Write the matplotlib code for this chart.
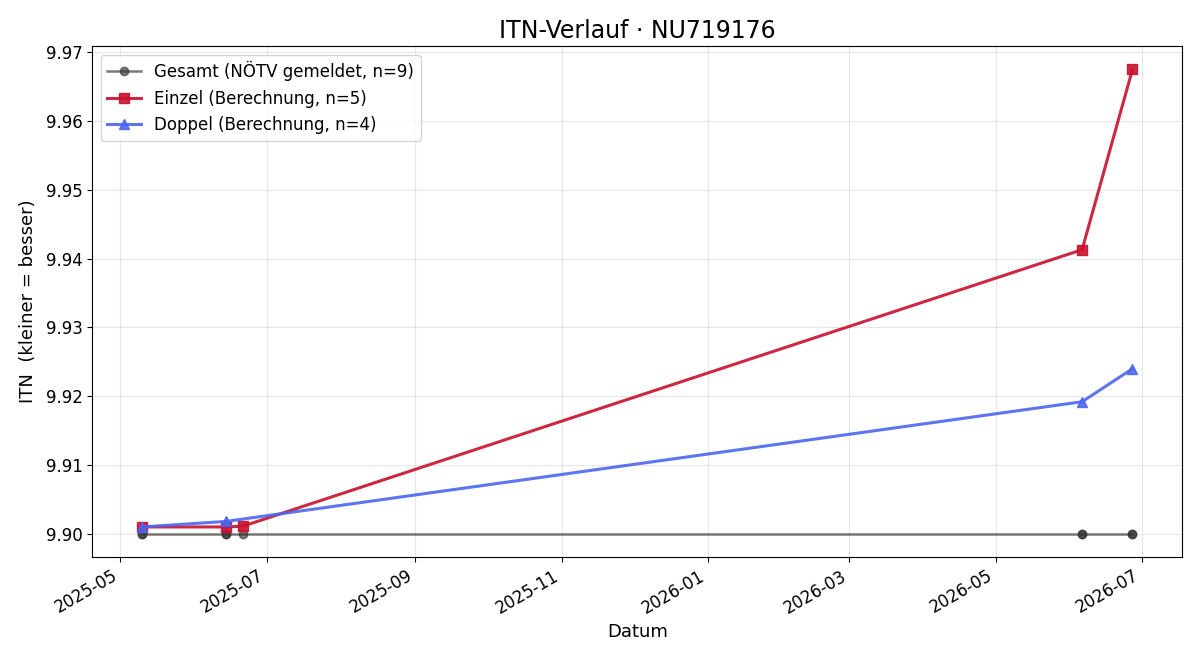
import matplotlib
matplotlib.use("Agg")
import matplotlib.pyplot as plt
import matplotlib.dates as mdates
import pandas as pd

gesamt_dates = ["2025-05-10", "2025-05-10", "2025-06-14", "2025-06-14", "2025-06-21",
                "2026-06-06", "2026-06-06", "2026-06-27", "2026-06-27"]
gesamt_itn = [9.90, 9.90, 9.90, 9.90, 9.90, 9.90, 9.90, 9.90, 9.90]

einzel_dates = ["2025-05-10", "2025-06-14", "2025-06-21", "2026-06-06", "2026-06-27"]
einzel_itn = [9.9010, 9.9010, 9.9011, 9.9413, 9.9675]

doppel_dates = ["2025-05-10", "2025-06-14", "2026-06-06", "2026-06-27"]
doppel_itn = [9.9010, 9.9018, 9.9192, 9.9240]

fig, ax = plt.subplots(figsize=(12, 6.6), dpi=100)
ax.plot(pd.to_datetime(gesamt_dates), gesamt_itn, "-o", color="#333333", alpha=0.65,
        lw=1.8, ms=6, label=f"Gesamt (NÖTV gemeldet, n={len(gesamt_itn)})")
ax.plot(pd.to_datetime(einzel_dates), einzel_itn, "-s", color="#c8102e", alpha=0.9,
        lw=2.2, ms=7, label=f"Einzel (Berechnung, n={len(einzel_itn)})")
ax.plot(pd.to_datetime(doppel_dates), doppel_itn, "-^", color="#4a66f0", alpha=0.9,
        lw=2.2, ms=7, label=f"Doppel (Berechnung, n={len(doppel_itn)})")

ax.xaxis.set_major_locator(mdates.MonthLocator(bymonth=[1, 3, 5, 7, 9, 11]))
ax.xaxis.set_major_formatter(mdates.DateFormatter("%Y-%m"))
ax.tick_params(labelsize=12)
ax.set_title("ITN-Verlauf · NU719176", fontsize=17)
ax.set_xlabel("Datum", fontsize=13)
ax.set_ylabel("ITN  (kleiner = besser)", fontsize=13, labelpad=6)
ax.grid(True, alpha=0.3)
ax.legend(loc="upper left", fontsize=12)
fig.autofmt_xdate()
fig.subplots_adjust(left=0.077, right=0.985, top=0.930, bottom=0.156)
fig.savefig("out.png", dpi=100)
